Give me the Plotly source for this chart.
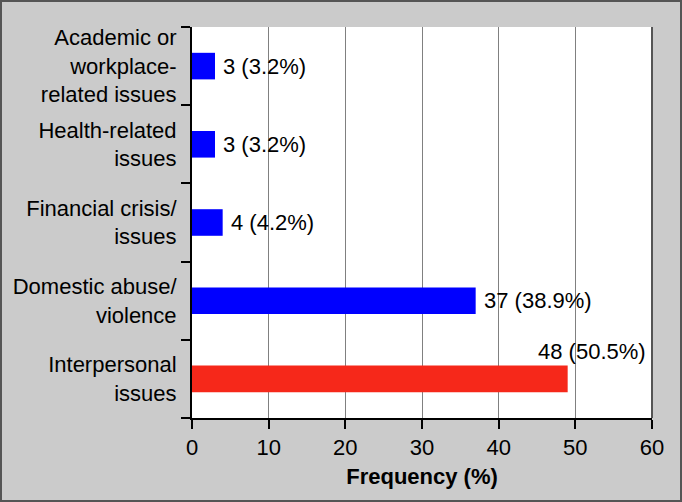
import plotly.graph_objects as go

categories = ["Interpersonal<br>issues", "Domestic abuse/<br>violence", "Financial crisis/<br>issues",
              "Health-related<br>issues", "Academic or<br>workplace-<br>related issues"]
values = [49, 37, 4, 3, 3]
labels = ["48 (50.5%)", "37 (38.9%)", "4 (4.2%)", "3 (3.2%)", "3 (3.2%)"]
colors = ["#f6281a", "#0000ff", "#0000ff", "#0000ff", "#0000ff"]
x_ticks = [0, 10, 20, 30, 40, 50, 60]

W, H = 682, 502
L, R, T, B = 192, 30, 27, 84
pw, ph = W - L - R, H - T - B
FONT = "Liberation Sans, Arial, Helvetica, sans-serif"
FS = 22

fig = go.Figure(go.Bar(
    x=values, y=categories, orientation="h",
    marker=dict(color=colors, line=dict(width=0)),
    width=0.34, hoverinfo="skip",
))

annotations = []
for i, (v, c, lab) in enumerate(zip(values, categories, labels)):
    if i == 0:
        annotations.append(dict(x=v, y=c, text=lab, showarrow=False, xanchor="center",
                                yanchor="middle", xshift=24, yshift=27,
                                font=dict(size=FS, color="black", family=FONT)))
    else:
        annotations.append(dict(x=v, y=c, text=lab, showarrow=False, xanchor="left",
                                yanchor="middle", xshift=6,
                                font=dict(size=FS, color="black", family=FONT)))

fig.update_layout(
    width=W, height=H,
    margin=dict(l=L, r=R, t=T, b=B, pad=0, autoexpand=False),
    paper_bgcolor="#cbcbcb", plot_bgcolor="white",
    font=dict(family=FONT, size=FS, color="black"),
    showlegend=False,
    annotations=annotations,
    xaxis=dict(range=[0, 60], tickvals=x_ticks, showgrid=True, gridcolor="#808080", gridwidth=1,
               ticks="outside", ticklen=9, tickwidth=1.5, tickcolor="black",
               showline=True, linecolor="black", linewidth=1.5, zeroline=False,
               title=dict(text="<b>Frequency (%)</b>", font=dict(size=FS), standoff=9),
               fixedrange=True, automargin=False),
    yaxis=dict(tickson="boundaries", ticks="outside", ticklen=9, tickwidth=1.5, tickcolor="black",
               showline=True, linecolor="black", linewidth=2, showgrid=False,
               ticklabelstandoff=9, fixedrange=True, automargin=False),
    shapes=[
        dict(type="line", xref="paper", yref="paper", x0=1, x1=1, y0=0, y1=1,
             line=dict(color="#555555", width=2)),
        dict(type="rect", xref="paper", yref="paper",
             x0=(1 - L) / pw, x1=(W - 1 - L) / pw,
             y0=-(B - 1) / ph, y1=(H - B - 1) / ph,
             line=dict(color="#555555", width=2), layer="above"),
    ],
)

fig.write_html("out.html", config={"displayModeBar": False},
               post_script="document.body.style.margin='0';")
